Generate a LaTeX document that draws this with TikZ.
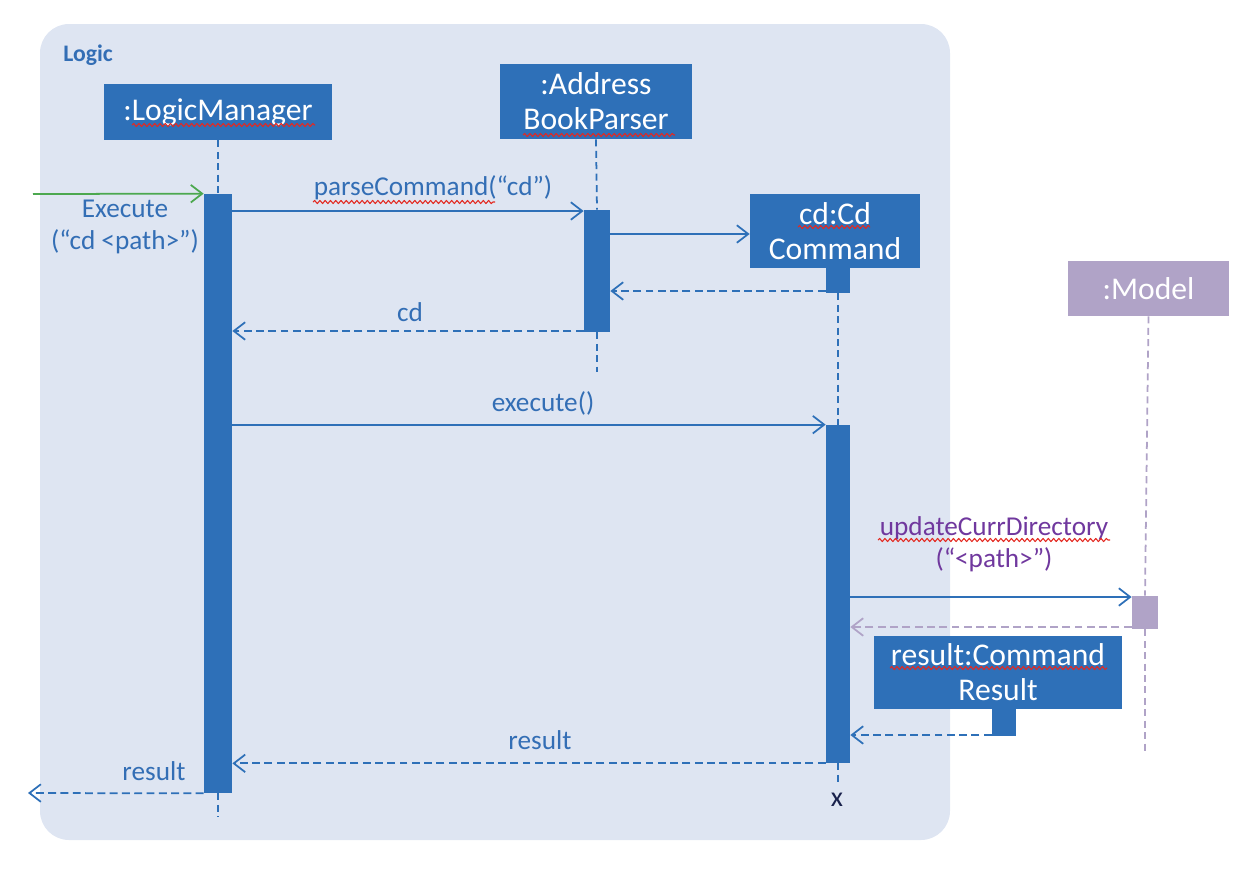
\documentclass[tikz,border=0pt]{standalone}
\usepackage{fontspec}
\setmainfont{Carlito}
\usetikzlibrary{arrows.meta,fit,decorations.pathmorphing}
\definecolor{logicbg}{rgb}{0.87,0.9,0.95}
\definecolor{boxblue}{rgb}{0.18,0.44,0.72}
\definecolor{txtblue}{rgb}{0.2,0.43,0.71}
\definecolor{callgreen}{rgb}{0.3,0.66,0.31}
\definecolor{modelpurple}{rgb}{0.69,0.64,0.78}
\definecolor{msgpurple}{rgb}{0.44,0.22,0.62}
\definecolor{spellred}{rgb}{0.89,0.16,0.13}
\definecolor{endnavy}{rgb}{0.1,0.13,0.3}

\tikzset{
  objbox/.style={fill=boxblue, text=white, align=center, inner sep=0pt, font=\fontsize{18}{20}\selectfont},
  actbar/.style={fill=boxblue, inner sep=0pt},
  lifeline/.style={boxblue, line width=1pt, dash pattern=on 4pt off 2.5pt},
  msg/.style={boxblue, line width=1pt, -{Straight Barb[length=6.5pt,width=10pt]}},
  reply/.style={msg, dash pattern=on 4.5pt off 2.5pt},
  msglabel/.style={text=txtblue, align=center, font=\fontsize{15.5}{18}\selectfont},
  spell/.style={spellred, line width=0.6pt, decorate, decoration={snake, amplitude=0.9pt, segment length=3pt}}
}

\begin{document}
\begin{tikzpicture}[line join=round,x=0.02cm,y=-0.02cm]
\useasboundingbox (0,0) rectangle (1252,870);

% Logic frame
\fill[logicbg, rounded corners=0.58cm] (40,24) rectangle (950,840);
\node[anchor=west, inner sep=0pt, text=txtblue, font=\bfseries\fontsize{13.5}{15}\selectfont] (logic) at (63,55) {Logic};

% objects
\node[objbox, minimum width=4.56cm, minimum height=1.12cm] (lm) at (218,112) {:LogicManager};
\node[objbox, minimum width=3.84cm, minimum height=1.5cm] (abp) at (596,101.5) {:Address\\BookParser};
\node[objbox, minimum width=3.4cm, minimum height=1.48cm] (cdc) at (835,231) {cd:Cd\\Command};
\node[objbox, fill=modelpurple, minimum width=3.22cm, minimum height=1.1cm] (model) at (1148.5,288.5) {:Model};
\node[objbox, minimum width=4.96cm, minimum height=1.46cm] (res) at (998,672.5) {result:Command\\Result};

% activation bars
\node[actbar, fit={(204,194) (232,793)}] (lmbar) {};
\node[actbar, fit={(584,210) (610,332)}] (abpbar) {};
\node[actbar, fit={(826,268) (850,293)}] (cdcstub) {};
\node[actbar, fit={(826,425) (850,763)}] (cdcbar) {};
\node[actbar, fill=modelpurple, fit={(1132,596) (1158,629)}] (modelbar) {};
\node[actbar, fit={(992,709) (1016,736)}] (resstub) {};

% lifelines
\draw[lifeline] (lm.south) -- (lmbar.north);
\draw[lifeline] (lmbar.south) -- ++(0,23);
\draw[lifeline] (abp.south) -- (abpbar.north);
\draw[lifeline] (abpbar.south) -- ++(0,40);
\draw[lifeline] (cdcstub.south) -- (cdcbar.north);
\draw[lifeline] (cdcbar.south) -- ++(0,19);
\node[text=endnavy, font=\fontsize{16}{18}\selectfont] (kill) at (837,800) {x};
\draw[lifeline, modelpurple] (model.south) -- (modelbar.north);
\draw[lifeline, modelpurple] (modelbar.south) -- ++(0,124);

% messages
\coordinate (start) at (33,194);
\coordinate (finish) at (28,793);
\draw[msg, callgreen] (start) -- (lmbar.north west);
\node[msglabel] (execlbl) at (125,227) {Execute\\(“cd <path>”)};

\draw[msg] (lmbar.east |- 0,211) -- (abpbar.west |- 0,211);
\node[msglabel] (parselbl) at (433,188) {parseCommand(“cd”)};
\draw[msg] (abpbar.east |- 0,234) -- (cdc.west |- 0,234);
\draw[reply] (cdcstub.west |- 0,291) -- (abpbar.east |- 0,291);
\draw[reply] (abpbar.west |- 0,331) -- (lmbar.east |- 0,331);
\node[msglabel] (cdlbl) at (410,312) {cd};

\draw[msg] (lmbar.east |- cdcbar.north west) -- (cdcbar.north west);
\node[msglabel] (execlbl2) at (543,403) {execute()};

\draw[msg] (cdcbar.east |- 0,597) -- (modelbar.west |- 0,597);
\node[msglabel, text=msgpurple] (updlbl) at (994,544) {updateCurrDirectory\\(“<path>”)};
\draw[reply, modelpurple] (modelbar.west |- 0,627) -- (cdcbar.east |- 0,627);
\draw[reply] (resstub.west |- 0,735) -- (cdcbar.east |- 0,735);

\draw[reply] (cdcbar.south west) -- (lmbar.east |- cdcbar.south west);
\node[msglabel] (reslbl) at (540,740) {result};
\draw[reply] (lmbar.south west) -- (finish);
\node[msglabel] (reslbl2) at (154,771) {result};

% spell check marks
\draw[spell] (132,125) -- (315,125);
\draw[spell] (313,202) -- (495,202);
\draw[spell] (523,135) -- (675,135);
\draw[spell] (798,227) -- (870,227);
\draw[spell] (878,540) -- (1110,540);
\draw[spell] (890,668) -- (1107,668);
\end{tikzpicture}
\end{document}
